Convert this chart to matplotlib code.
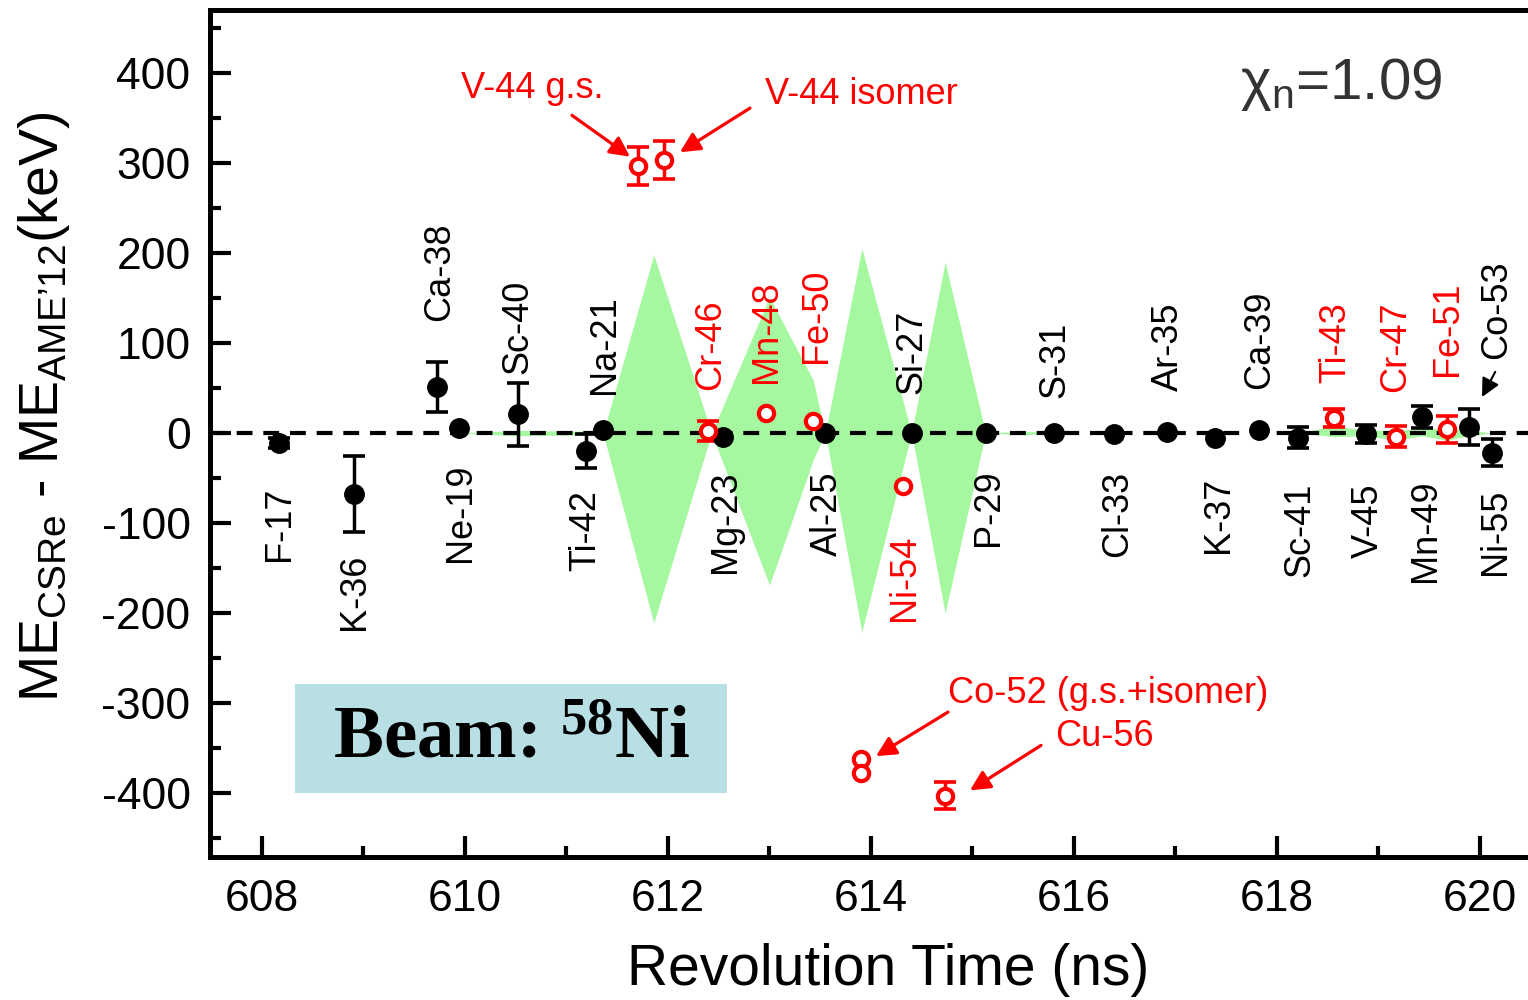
import matplotlib
matplotlib.use('Agg')
import matplotlib.pyplot as plt
from matplotlib.patches import Rectangle
from matplotlib.ticker import MultipleLocator

plt.rcParams['font.family'] = ['Liberation Sans', 'DejaVu Sans']
plt.rcParams['mathtext.fontset'] = 'custom'
plt.rcParams['mathtext.rm'] = 'Liberation Sans'
plt.rcParams['mathtext.it'] = 'Liberation Sans:italic'
plt.rcParams['mathtext.bf'] = 'Liberation Serif:bold'
plt.rcParams['axes.unicode_minus'] = False

# reference nuclides (black, filled)
black_t = [608.17, 608.91, 609.72, 609.94, 610.52, 611.19, 611.36, 612.54, 613.55, 614.40, 615.13,
           615.80, 616.39, 616.92, 617.39, 617.82, 618.21, 618.88, 619.43, 619.89, 620.12]
black_dm = [-11, -68, 51, 6, 21, -20, 3, -4, 0, 0, 0, 0, -1, 1, -6, 3, -5, -1, 18, 7, -22]
black_err = [6, 42, 28, 0, 35, 19, 0, 0, 0, 0, 0, 0, 0, 0, 0, 0, 12, 10, 12, 20, 15]

# new / re-determined nuclides (red, open)
red_t = [611.70, 611.96, 612.39, 612.97, 613.43, 613.90, 613.90, 614.32, 614.73, 618.56, 619.17, 619.67]
red_dm = [297, 303, 2, 22, 13, -362, -378, -59, -403, 17, -4, 4]
red_err = [21, 21, 11, 0, 0, 0, 0, 0, 15, 10, 12, 15]

# AME'12 uncertainty band
band_t = [609.94, 610.52, 611.19, 611.36, 611.86, 612.43, 613.0, 613.43, 613.55, 613.91, 614.40,
          614.73, 615.13, 615.5, 615.80, 618.21, 618.56, 618.88, 619.17, 619.43, 619.67, 619.89, 620.12]
band_hi = [0, 3, 2, 0, 198, 0, 151, 59, 0, 205, 0, 190, 0, 2, 0, 0, 8, 3, 3, 5, 5, 3, 0]
band_lo = [0, -3, -2, 0, -211, 0, -169, -30, 0, -221, 0, -200, 0, -2, 0, 0, -4, -3, -8, -3, -8, -3, 0]

# nuclide labels: name, colour, x, y
labels = [
    ('Ca-38', 'k', 609.754, 179), ('Sc-40', 'k', 610.522, 118), ('Na-21', 'k', 611.379, 98),
    ('Si-27', 'k', 614.404, 90), ('S-31', 'k', 615.813, 81), ('Ar-35', 'k', 616.926, 96),
    ('Ca-39', 'k', 617.833, 104), ('Co-53', 'k', 620.167, 137),
    ('Cr-46', 'r', 612.424, 98), ('Mn-48', 'r', 612.975, 113), ('Fe-50', 'r', 613.468, 130),
    ('Ti-43', 'r', 618.581, 100), ('Cr-47', 'r', 619.172, 96), ('Fe-51', 'r', 619.675, 116),
    ('F-17', 'k', 608.177, -101), ('K-36', 'k', 608.916, -176), ('Ne-19', 'k', 609.951, -88),
    ('Ti-42', 'k', 611.192, -108), ('Mg-23', 'k', 612.562, -98), ('Al-25', 'k', 613.567, -90),
    ('Ni-54', 'r', 614.335, -161), ('P-29', 'k', 615.153, -83), ('Cl-33', 'k', 616.433, -90),
    ('K-37', 'k', 617.419, -91), ('Sc-41', 'k', 618.227, -108), ('V-45', 'k', 618.897, -97),
    ('Mn-49', 'k', 619.468, -108), ('Ni-55', 'k', 620.148, -110),
]

RED = '#ff0000'
fig = plt.figure(figsize=(15.28, 10), dpi=100)
ax = fig.add_axes([210 / 1528, 0.143, (1581.5 - 210) / 1528, 0.847])
ax.set_xlim(607.488, 621.0)
ax.set_ylim(-471, 470)

ax.fill_between(band_t, band_lo, band_hi, color='#a6f8a0', lw=0, zorder=1)
ax.axhline(0, color='k', ls=(0, (3.8, 2.6)), lw=3.0, zorder=2)

# black points
bt = [t for t, e in zip(black_t, black_err) if e > 0]
bd = [d for d, e in zip(black_dm, black_err) if e > 0]
be = [e for e in black_err if e > 0]
ax.errorbar(bt, bd, yerr=be, fmt='none', ecolor='k', elinewidth=2.5, capsize=8, capthick=2.6, zorder=3)
ax.plot(black_t, black_dm, 'o', color='k', ms=14, zorder=4)

# red points
rt = [t for t, e in zip(red_t, red_err) if e > 0]
rd = [d for d, e in zip(red_dm, red_err) if e > 0]
re_ = [e for e in red_err if e > 0]
ax.errorbar(rt, rd, yerr=re_, fmt='none', ecolor=RED, elinewidth=2.5, capsize=8, capthick=2.6, zorder=3)
ax.plot(red_t, red_dm, 'o', mfc='white', mec=RED, mew=3.0, ms=11, zorder=5)

for name, c, x, y in labels:
    ax.text(x, y, name, rotation=90, ha='center', va='center', fontsize=26,
            color=RED if c == 'r' else 'k', zorder=6)

# annotations
arrow_r = dict(arrowstyle='-|>', color=RED, lw=2.3, mutation_scale=30, shrinkA=0, shrinkB=0)
ax.text(610.66, 383, 'V-44 g.s.', color=RED, fontsize=26, ha='center', va='center')
ax.annotate('', xy=(611.626, 307), xytext=(611.054, 353), arrowprops=arrow_r)
ax.text(613.91, 376, 'V-44 isomer', color=RED, fontsize=26, ha='center', va='center')
ax.annotate('', xy=(612.118, 312), xytext=(612.808, 361), arrowprops=arrow_r)
ax.text(614.76, -289, 'Co-52 (g.s.+isomer)', color=RED, fontsize=26, ha='left', va='center')
ax.annotate('', xy=(614.049, -359), xytext=(614.759, -310), arrowprops=arrow_r)
ax.text(615.81, -337, 'Cu-56', color=RED, fontsize=26, ha='left', va='center')
ax.annotate('', xy=(614.975, -397), xytext=(615.675, -347), arrowprops=arrow_r)
ax.annotate('', xy=(620.02, 40), xytext=(620.15, 68),
            arrowprops=dict(arrowstyle='-|>', color='k', lw=1.5, mutation_scale=28, shrinkA=0, shrinkB=0))

ax.text(617.64, 387, '\u03c7$_{\\rm n}$=1.09', color='#333333', fontsize=42, ha='left', va='center')

# beam box
fig.patches.append(Rectangle((295 / 1528, 0.207), 432 / 1528, 0.109, transform=fig.transFigure,
                             facecolor='#b8e0e4', edgecolor='none', zorder=10))
fig.text(512 / 1528, 1 - 739 / 1000, r'Beam: $\mathbf{^{58}}$Ni', family='Liberation Serif',
         weight='bold', fontsize=54, ha='center', va='center', zorder=11)

# axes styling
for s in ax.spines.values():
    s.set_linewidth(3.6)
ax.xaxis.set_major_locator(MultipleLocator(2))
ax.xaxis.set_minor_locator(MultipleLocator(1))
ax.yaxis.set_major_locator(MultipleLocator(100))
ax.yaxis.set_minor_locator(MultipleLocator(50))
ax.tick_params(which='both', direction='in', top=False, right=False, width=3, labelsize=32)
ax.tick_params(which='major', length=15)
ax.tick_params(which='minor', length=8)
ax.tick_params(axis='x', pad=16)
ax.tick_params(axis='y', pad=14)

fig.text(888 / 1528, 1 - 970 / 1000, 'Revolution Time (ns)', fontsize=41, ha='center', va='center')
fig.text(44 / 1528, 1 - 407 / 1000, 'ME$_{\\rm CSRe}$ - ME$_{\\rm AME\u201912}$(keV)', fontsize=40,
         rotation=90, ha='center', va='center')

fig.savefig('out.png', dpi=100)
